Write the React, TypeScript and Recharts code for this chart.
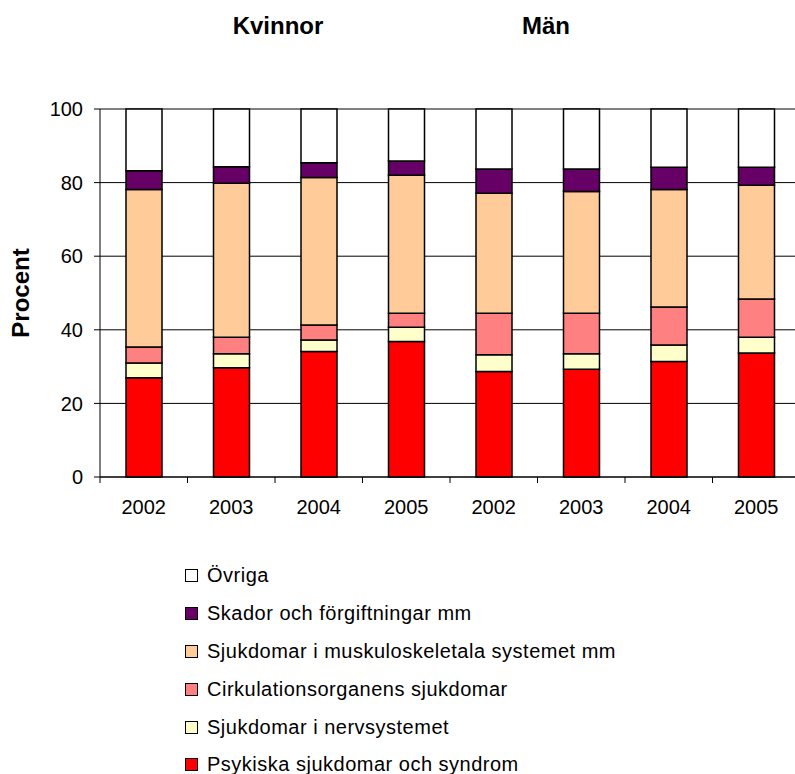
import React from 'react';
import { BarChart, Bar, XAxis, YAxis, CartesianGrid, Legend, Label } from 'recharts';

const years = ['2002', '2003', '2004', '2005', '2002', '2003', '2004', '2005'];
const psykiska = [27.0, 29.7, 34.1, 36.8, 28.7, 29.3, 31.4, 33.7];
const nerv = [4.0, 3.8, 3.1, 3.9, 4.5, 4.2, 4.5, 4.3];
const cirk = [4.3, 4.5, 4.1, 3.8, 11.3, 11.0, 10.3, 10.4];
const musk = [42.8, 41.8, 40.1, 37.5, 32.6, 33.1, 31.9, 30.9];
const skador = [5.1, 4.5, 4.0, 3.9, 6.6, 6.1, 6.1, 4.9];
const ovriga = [16.8, 15.7, 14.6, 14.1, 16.3, 16.3, 15.8, 15.8];
const yTicks = [0, 20, 40, 60, 80, 100];

// bottom to top
const series = [
  { key: 'psykiska', name: 'Psykiska sjukdomar och syndrom', color: '#FF0000', values: psykiska },
  { key: 'nerv', name: 'Sjukdomar i nervsystemet', color: '#FFFFCC', values: nerv },
  { key: 'cirk', name: 'Cirkulationsorganens sjukdomar', color: '#FF8080', values: cirk },
  { key: 'musk', name: 'Sjukdomar i muskuloskeletala systemet mm', color: '#FFCC99', values: musk },
  { key: 'skador', name: 'Skador och förgiftningar mm', color: '#660066', values: skador },
  { key: 'ovriga', name: 'Övriga', color: '#FFFFFF', values: ovriga },
];

const data = years.map((year, i) => {
  const row: Record<string, any> = { year };
  series.forEach(s => { row[s.key] = s.values[i]; });
  return row;
});

const FONT = '"Liberation Sans", Arial, sans-serif';
const CHART_W = 800;
const Y_AXIS_W = 100;
const CAT_W = (CHART_W - Y_AXIS_W) / years.length;

const XTick = (props: any) => {
  const { x, y, payload, index } = props;
  return (
    <g>
      <line x1={x - CAT_W / 2} y1={y} x2={x - CAT_W / 2} y2={y + 6} stroke="#000" />
      {index === years.length - 1 && (
        <line x1={x + CAT_W / 2} y1={y} x2={x + CAT_W / 2} y2={y + 6} stroke="#000" />
      )}
      <text x={x} y={y + 37} textAnchor="middle" fontSize={20} fontFamily={FONT} fill="#000">
        {payload.value}
      </text>
    </g>
  );
};

const LegendList = () => (
  <div style={{ fontFamily: FONT, fontSize: 20, color: '#000' }}>
    {[...series].reverse().map(s => (
      <div key={s.key} style={{ height: 37.8, display: 'flex', alignItems: 'center', whiteSpace: 'nowrap' }}>
        <span style={{ display: 'inline-block', width: 11, height: 11, background: s.color, border: '1px solid #000', marginRight: 9 }} />
        <span style={{ letterSpacing: 0.5 }}>{s.name}</span>
      </div>
    ))}
  </div>
);

export default function App() {
  return (
    <div style={{ position: 'absolute', left: 0, top: 0, width: 795, height: 774, overflow: 'hidden', background: '#fff' }}>
      <div style={{ position: 'absolute', left: 0, top: 0, width: 795, height: 50, fontFamily: FONT, fontWeight: 'bold', fontSize: 24 }}>
        <div style={{ position: 'absolute', left: 178, width: 200, top: 12, textAlign: 'center', lineHeight: '28px' }}>Kvinnor</div>
        <div style={{ position: 'absolute', left: 446, width: 200, top: 12, textAlign: 'center', lineHeight: '28px' }}>Män</div>
      </div>
      <BarChart
        width={CHART_W}
        height={774}
        data={data}
        margin={{ top: 109, right: 0, left: 0, bottom: 254 }}
        barSize={36}
        style={{ position: 'absolute', left: 0, top: 0 }}
      >
        <CartesianGrid vertical={false} stroke="#000" strokeWidth={1} />
        <XAxis
          dataKey="year"
          height={43}
          axisLine={{ stroke: '#000' }}
          tickLine={false}
          tickSize={0}
          tickMargin={0}
          tick={<XTick />}
          interval={0}
        />
        <YAxis
          width={Y_AXIS_W}
          domain={[0, 100]}
          ticks={yTicks}
          axisLine={{ stroke: '#000' }}
          tickLine={{ stroke: '#000' }}
          tickSize={6}
          tickMargin={11}
          tick={{ fontSize: 20, fontFamily: FONT, fill: '#000' }}
        >
          <Label
            content={(p: any) => {
              const vb = p.viewBox;
              const cx = 20;
              const cy = vb.y + vb.height / 2;
              return (
                <text
                  x={cx}
                  y={cy}
                  transform={`rotate(-90 ${cx} ${cy})`}
                  textAnchor="middle"
                  dominantBaseline="central"
                  fontSize={24}
                  fontWeight="bold"
                  fontFamily={FONT}
                  fill="#000"
                >
                  Procent
                </text>
              );
            }}
          />
        </YAxis>
        <Legend
          layout="vertical"
          align="center"
          verticalAlign="middle"
          content={<LegendList />}
          wrapperStyle={{ left: 185, top: 557, width: 600, height: 230 }}
        />
        {series.map(s => (
          <Bar
            key={s.key}
            dataKey={s.key}
            name={s.name}
            stackId="a"
            fill={s.color}
            stroke="#000"
            strokeWidth={1.5}
            isAnimationActive={false}
          />
        ))}
      </BarChart>
    </div>
  );
}
